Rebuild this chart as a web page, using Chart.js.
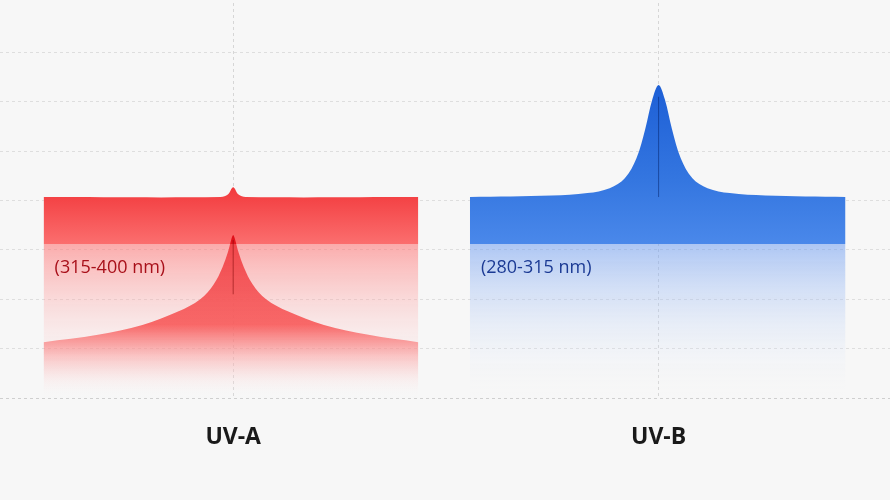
<!DOCTYPE html><html><head><meta charset="utf-8">
<script src="https://cdn.jsdelivr.net/npm/chart.js@4"></script>
<style>html,body{margin:0;background:#f7f7f7}#w{width:890px;height:500px}</style></head><body><div id="w"><canvas id="c"></canvas></div>
<script>
const categories=['UV-A','UV-B'];
const rangeLabels=['(315-400 nm)','(280-315 nm)'];
const centers=[26.2,74];
const bandTop=4.07, bandBottom=3.12;
// UV-A inner peak curve
const uvaPeakX=[4.9,11,16,20,22.5,24,25,25.6,26,26.2,26.4,26.8,27.4,28.4,29.9,32.4,36.4,41.4,47];
const uvaPeakY=[1.13,1.28,1.48,1.75,2.0,2.3,2.65,2.95,3.22,3.3,3.22,2.95,2.65,2.3,2.0,1.75,1.48,1.28,1.13];
// UV-A band top with small bump
const uvaTopX=[4.9,24.8,25.6,26.2,26.8,27.6,47];
const uvaTopY=[4.07,4.07,4.12,4.27,4.12,4.07,4.07];
// UV-B band top with tall peak
const uvbTopX=[52.8,62,66,68.5,70.2,71.5,72.5,73.3,74,74.7,75.5,76.5,77.8,79.5,82,86,95];
const uvbTopY=[4.07,4.1,4.15,4.25,4.45,4.85,5.45,6.05,6.34,6.05,5.45,4.85,4.45,4.25,4.15,4.1,4.07];
const panelX=[[4.9,47],[52.8,95]];
const pts=(xs,ys)=>xs.map((x,i)=>({x,y:ys[i]}));
function grad(ctx,y0,y1,stops){
  const c=ctx.chart, a=c.chartArea; if(!a) return stops[0][1];
  const s=c.scales.y, g=c.ctx.createLinearGradient(0,s.getPixelForValue(y0),0,s.getPixelForValue(y1));
  stops.forEach(([o,col])=>g.addColorStop(o,col)); return g;
}
const base={pointRadius:0,borderWidth:0,tension:0.35,showLine:true};
const data={datasets:[
 {...base,data:pts(panelX[0],[bandBottom,bandBottom]),fill:'origin',backgroundColor:c=>grad(c,bandBottom,0,[[0,'rgba(255,110,110,0.55)'],[1,'rgba(255,255,255,0)']])},
 {...base,data:pts(panelX[1],[bandBottom,bandBottom]),fill:'origin',backgroundColor:c=>grad(c,bandBottom,0,[[0,'rgba(100,150,240,0.5)'],[1,'rgba(255,255,255,0)']])},
 {...base,data:pts(uvaPeakX,uvaPeakY),fill:'origin',backgroundColor:c=>grad(c,3.3,0,[[0,'#e0101a'],[0.55,'rgba(245,55,55,0.9)'],[1,'rgba(255,255,255,0)']])},
 {...base,data:pts(uvaTopX,uvaTopY),fill:{value:bandBottom},backgroundColor:c=>grad(c,4.27,bandBottom,[[0,'#f2393c'],[1,'#fb6e6e']])},
 {...base,data:pts(uvbTopX,uvbTopY),fill:{value:bandBottom},backgroundColor:c=>grad(c,6.34,bandBottom,[[0,'#1d5fd6'],[0.6,'#3476e0'],[1,'#4a88ea']])}
]};
const labels={id:'labels',afterDatasetsDraw(ch){
  const g=ch.ctx,x=ch.scales.x,y=ch.scales.y;
  g.save();
  g.strokeStyle='rgba(120,0,0,0.5)';g.lineWidth=1;
  g.beginPath();g.moveTo(x.getPixelForValue(centers[0]),y.getPixelForValue(3.2));g.lineTo(x.getPixelForValue(centers[0]),y.getPixelForValue(2.1));g.stroke();
  g.strokeStyle='rgba(0,30,100,0.5)';
  g.beginPath();g.moveTo(x.getPixelForValue(centers[1]),y.getPixelForValue(6.1));g.lineTo(x.getPixelForValue(centers[1]),y.getPixelForValue(4.07));g.stroke();
  g.textBaseline='middle';
  g.font='18px "Open Sans", sans-serif';
  g.fillStyle='#a8101a';g.textAlign='left';
  g.fillText(rangeLabels[0],x.getPixelForValue(panelX[0][0])+11,268);
  g.fillStyle='#1b3a94';
  g.fillText(rangeLabels[1],x.getPixelForValue(panelX[1][0])+11,268);
  g.font='bold 23px "Open Sans", sans-serif';g.fillStyle='#1a1a1a';g.textAlign='center';
  categories.forEach((c,i)=>g.fillText(c,x.getPixelForValue(centers[i]),437));
  g.restore();
}};
new Chart(document.getElementById('c'),{type:'scatter',data,plugins:[labels],options:{
 responsive:true,maintainAspectRatio:false,animation:false,
 layout:{padding:{top:3,bottom:102,left:0,right:0}},
 plugins:{legend:{display:false},tooltip:{enabled:false}},
 scales:{
  x:{type:'linear',min:0,max:100,display:true,ticks:{display:false},
     afterBuildTicks:s=>{s.ticks=centers.map(v=>({value:v}))},
     grid:{color:'#d6d6d6',lineWidth:1,drawTicks:false},border:{display:false,dash:[3,3]}},
  y:{min:0,max:8,display:true,ticks:{display:false,stepSize:1},
     grid:{color:c=>c.tick.value===0?'#cfcfcf':(c.tick.value===8?'rgba(0,0,0,0)':'#dedede'),drawTicks:false},border:{display:false,dash:[3,3]}}
 }}});
</script></body></html>
